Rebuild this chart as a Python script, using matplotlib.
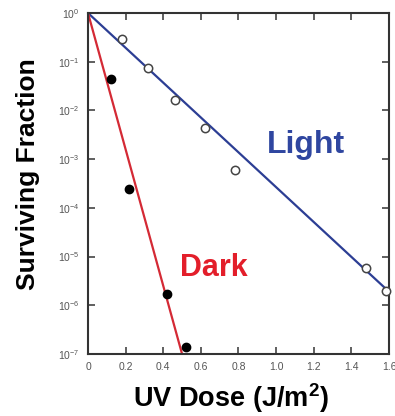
import matplotlib
matplotlib.use("Agg")
import matplotlib.pyplot as plt
import numpy as np
from matplotlib.ticker import FixedLocator

plt.rcParams['font.family'] = ['Liberation Sans', 'DejaVu Sans']
plt.rcParams['mathtext.fontset'] = 'custom'
plt.rcParams['mathtext.rm'] = 'Liberation Sans'
plt.rcParams['mathtext.bf'] = 'Liberation Sans:bold'

light_dose = [0.18, 0.32, 0.46, 0.62, 0.78, 1.48, 1.585]
light_surv = [0.29, 0.075, 0.016, 0.0043, 6.0e-4, 5.8e-6, 2.0e-6]
dark_dose = [0.12, 0.22, 0.42, 0.52]
dark_surv = [0.045, 2.4e-4, 1.7e-6, 1.4e-7]
light_fit_dose = [0.0, 1.6]
light_fit_surv = [1.0, 1.9e-6]
dark_fit_dose = [0.0, 0.5]
dark_fit_surv = [1.0, 1.0e-7]

xticks = [0, 0.2, 0.4, 0.6, 0.8, 1.0, 1.2, 1.4, 1.6]
xticklabels = ['0', '0.2', '0.4', '0.6', '0.8', '1.0', '1.2', '1.4', '1.6']
yexps = [0, -1, -2, -3, -4, -5, -6, -7]

fig = plt.figure(figsize=(3.95, 4.16), dpi=100)
ax = fig.add_axes([88/395, 1-354/416, 301/395, 341/416])

ax.plot(light_fit_dose, light_fit_surv, color='#2c3e94', lw=1.6, zorder=2)
ax.plot(dark_fit_dose, dark_fit_surv, color='#d42a35', lw=1.6, zorder=2)
ax.plot(light_dose, light_surv, 'o', mfc='white', mec='#444444', mew=1.1, ms=6, zorder=3, clip_on=False)
ax.plot(dark_dose, dark_surv, 'o', mfc='black', mec='black', ms=6, zorder=3, clip_on=False)

ax.set_yscale('log')
ax.set_xlim(0, 1.6)
ax.set_ylim(1e-7, 1)
ax.xaxis.set_major_locator(FixedLocator(xticks))
ax.set_xticklabels(xticklabels)
ax.yaxis.set_major_locator(FixedLocator([10.0**e for e in yexps]))
ax.yaxis.set_minor_locator(FixedLocator([]))
ax.set_yticklabels(['$10^{%d}$' % e for e in yexps])

ax.tick_params(axis='both', which='major', direction='in', length=5, width=1.2,
               top=True, right=True, labelsize=7.5, labelcolor='#555555', color='#444444', pad=6)
for s in ax.spines.values():
    s.set_linewidth(1.5)
    s.set_color('#333333')

ax.set_xlabel('UV Dose (J/m$^\\mathbf{2}$)', fontsize=19.5, fontweight='bold')
ax.xaxis.set_label_coords(0.475, -27/341)
ax.set_ylabel('Surviving Fraction', fontsize=19, fontweight='bold')
ax.yaxis.set_label_coords(-48/301, 0.528)

ax.text(1.16, 10**-2.71, 'Light', color='#2f46a0', fontsize=23, fontweight='bold', ha='center', va='center')
ax.text(0.67, 10**-5.24, 'Dark', color='#e31e2a', fontsize=22, fontweight='bold', ha='center', va='center')

fig.savefig('out.png', dpi=100)
